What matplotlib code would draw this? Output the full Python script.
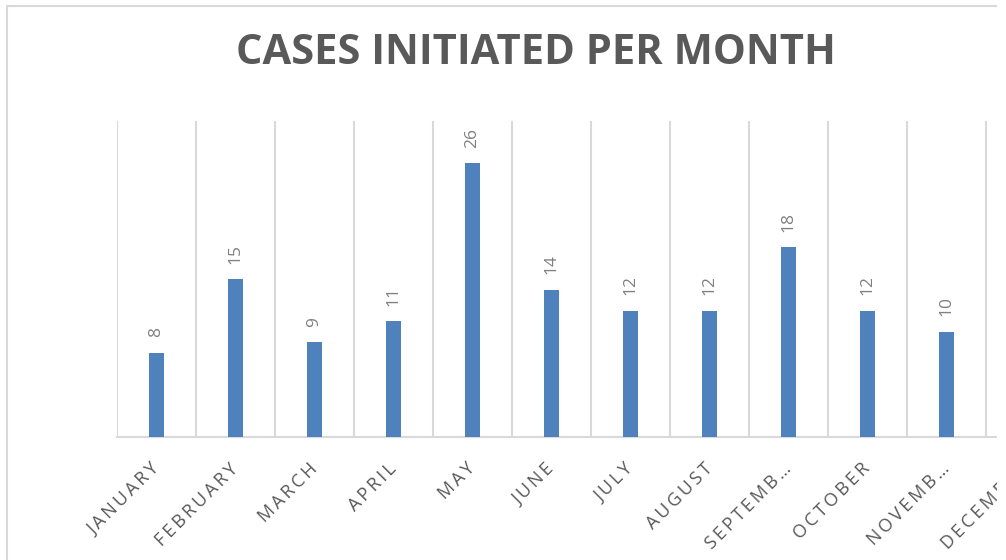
import matplotlib.pyplot as plt
from matplotlib.patches import Rectangle
from matplotlib.transforms import ScaledTranslation
import numpy as np

# data (December bar lies outside the visible area)
months = ["JANUARY", "FEBRUARY", "MARCH", "APRIL", "MAY", "JUNE", "JULY",
          "AUGUST", "SEPTEMB…", "OCTOBER", "NOVEMB…", "DECEMBER"]
cases = [8, 15, 9, 11, 26, 14, 12, 12, 18, 12, 10]
title = "CASES INITIATED PER MONTH"

plt.rcParams['font.family'] = ['Open Sans', 'DejaVu Sans']

BAR = '#4f81bd'
GRID = '#d9d9d9'
TXT = '#595959'


def spaced(s, sep='\u2009'):
    # fake letter spacing
    return sep.join(s)


W, H = 1006, 560
fig = plt.figure(figsize=(W / 100, H / 100), dpi=100)
fig.patch.set_facecolor('white')

# plot area runs past the right edge, like the cropped original
ax = fig.add_axes([117 / W, 123 / H, 948 / W, 316 / H])
x = np.arange(len(cases))
ax.bar(x, cases, width=0.18, color=BAR, zorder=3)

ax.set_xlim(-0.5, len(months) - 0.5)
ax.set_ylim(0, 30)
ax.set_yticks([])

ax.set_xticks(np.arange(len(months)))
ax.set_xticklabels([spaced(m) for m in months], rotation=45, ha='right',
                   va='center', rotation_mode='anchor', fontsize=13, color=TXT)
# nudge labels a little to the left
shift = ScaledTranslation(-3 / 72, 0, fig.dpi_scale_trans)
for lbl in ax.get_xticklabels():
    lbl.set_transform(lbl.get_transform() + shift)
ax.set_xticks(np.arange(-0.5, len(months)), minor=True)
ax.tick_params(axis='x', which='both', length=0, pad=21)
ax.grid(True, which='minor', axis='x', color=GRID, linewidth=1.5, zorder=0)

for side in ['top', 'left', 'right']:
    ax.spines[side].set_visible(False)
ax.spines['bottom'].set_color(GRID)
ax.spines['bottom'].set_linewidth(1.5)

# value labels, rotated
for i, v in enumerate(cases):
    ax.annotate(str(v), (i, v), xytext=(0, 11), textcoords='offset points',
                rotation=90, ha='center', va='bottom', fontsize=12.5, color='#808080')

fig.text(536 / W, 1 - 54 / H, title, ha='center', va='center',
         fontsize=30, fontweight='bold', color=TXT)

# chart border and crop mask on the right
fig.add_artist(Rectangle((7 / W, -0.1), 1.2, 1.1 - 6 / H, transform=fig.transFigure,
                         fill=False, edgecolor=GRID, linewidth=1.5, zorder=5))
fig.add_artist(Rectangle((997 / W, 0), 1, 1, transform=fig.transFigure,
                         facecolor='white', edgecolor='none', zorder=10))

fig.savefig('out.png', dpi=100)
